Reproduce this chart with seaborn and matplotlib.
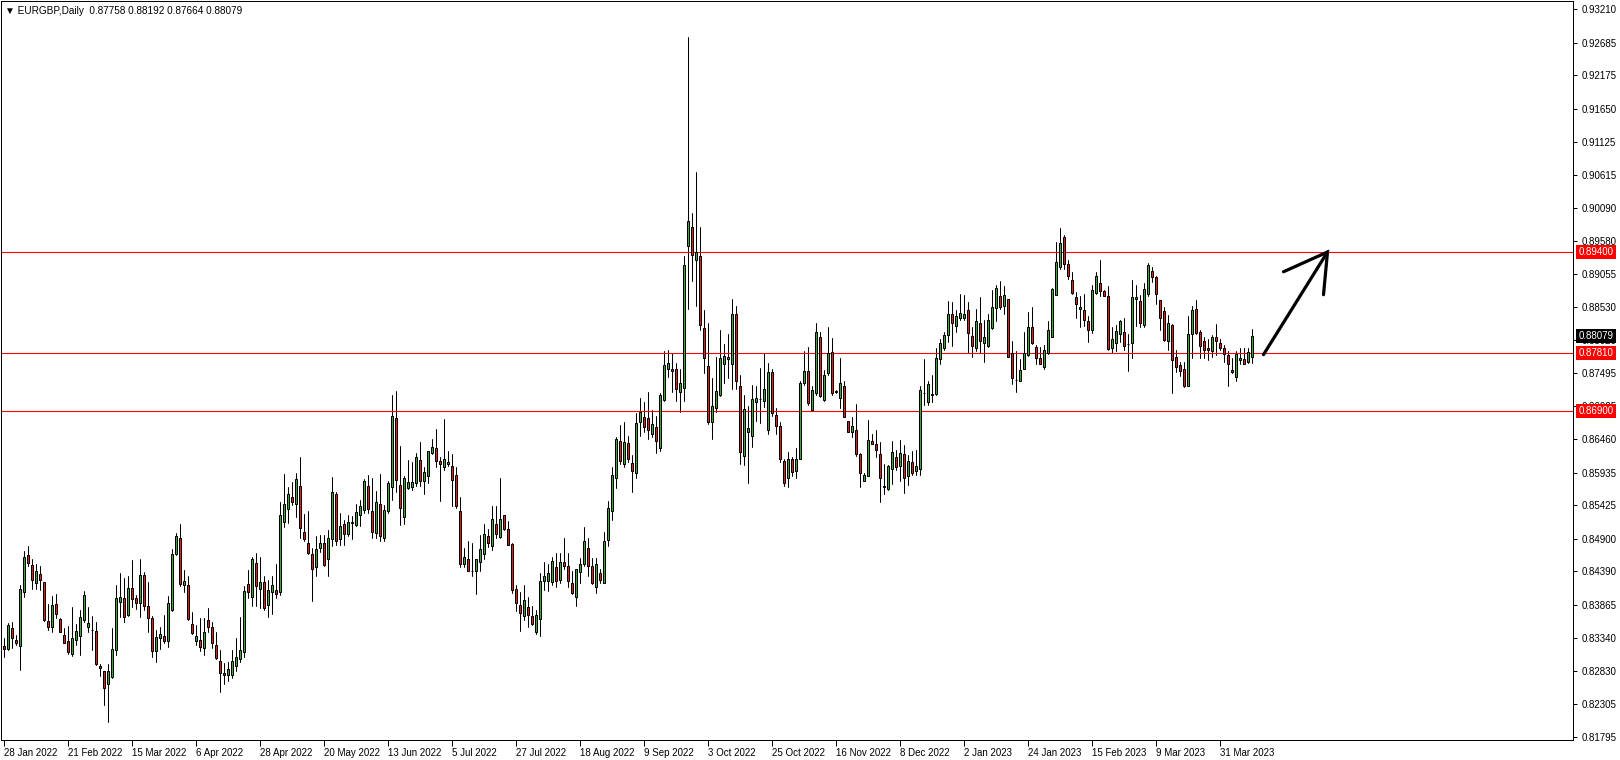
import numpy as np
import pandas as pd
import matplotlib
matplotlib.use("Agg")
import matplotlib.pyplot as plt
import matplotlib.transforms as mtransforms
import seaborn as sns

# ---------------- data ----------------
header_text = "\u25BC EURGBP,Daily  0.87758 0.88192 0.87664 0.88079"

date_labels = ["28 Jan 2022", "21 Feb 2022", "15 Mar 2022", "6 Apr 2022", "28 Apr 2022",
               "20 May 2022", "13 Jun 2022", "5 Jul 2022", "27 Jul 2022", "18 Aug 2022",
               "9 Sep 2022", "3 Oct 2022", "25 Oct 2022", "16 Nov 2022", "8 Dec 2022",
               "2 Jan 2023", "24 Jan 2023", "15 Feb 2023", "9 Mar 2023", "31 Mar 2023"]
bars_per_label = 16

price_ticks = [0.93210, 0.92685, 0.92175, 0.91650, 0.91125, 0.90615, 0.90090, 0.89580,
               0.89055, 0.88530, 0.88020, 0.87495, 0.86985, 0.86460, 0.85935, 0.85425,
               0.84900, 0.84390, 0.83865, 0.83340, 0.82830, 0.82305, 0.81795]

levels = [0.89400, 0.87810, 0.86900]
last_price = 0.88079

opens = [
 .8322, .8317, .8350, .8332, .8322, .8406, .8465, .8449, .8421, .8435,
 .8422, .8361, .8351, .8388, .8364, .8339, .8330, .8309, .8331, .8338,
 .8362, .8351, .8347, .8345, .8290, .8283, .8262, .8273, .8315, .8391,
 .8397, .8371, .8413, .8397, .8390, .8433, .8385, .8365, .8314, .8335,
 .8338, .8330, .8378, .8466, .8491, .8417, .8418, .8357, .8330, .8331,
 .8318, .8363, .8351, .8324, .8299, .8279, .8276, .8277, .8291, .8302,
 .8312, .8419, .8398, .8452, .8412, .8423, .8386, .8407, .8410, .8406,
 .8517, .8536, .8556, .8544, .8573, .8501, .8484, .8466, .8445, .8476,
 .8483, .8458, .8490, .8560, .8489, .8513, .8497, .8517, .8512, .8527,
 .8535, .8573, .8534, .8499, .8545, .8492, .8533, .8571, .8679, .8574,
 .8525, .8569, .8572, .8577, .8614, .8580, .8588, .8624, .8632, .8612,
 .8602, .8607, .8605, .8590, .8534, .8451, .8458, .8440, .8440, .8453,
 .8466, .8494, .8478, .8513, .8493, .8527, .8506, .8482, .8411, .8386,
 .8369, .8383, .8369, .8343, .8364, .8424, .8424, .8423, .8445, .8426,
 .8454, .8447, .8421, .8399, .8438, .8451, .8476, .8447, .8414, .8437,
 .8421, .8488, .8533, .8586, .8643, .8608, .8640, .8609, .8594, .8674,
 .8681, .8680, .8655, .8666, .8633, .8708, .8757, .8757, .8757, .8721,
 .8726, .8949, .8980, .8927, .8934, .8821, .8761, .8673, .8696, .8716,
 .8765, .8772, .8765, .8843, .8730, .8620, .8657, .8652, .8704, .8709,
 .8707, .8660, .8751, .8684, .8667, .8612, .8586, .8615, .8597, .8616,
 .8734, .8753, .8692, .8718, .8807, .8708, .8750, .8783, .8721, .8711,
 .8730, .8675, .8658, .8661, .8623, .8581, .8589, .8643, .8639, .8623,
 .8573, .8568, .8599, .8618, .8605, .8623, .8588, .8610, .8596, .8600,
 .8718, .8705, .8715, .8717, .8772, .8789, .8809, .8843, .8824, .8837,
 .8837, .8849, .8808, .8789, .8829, .8797, .8793, .8821, .8852, .8871,
 .8856, .8866, .8781, .8739, .8738, .8757, .8778, .8822, .8791, .8774,
 .8760, .8781, .8807, .8872, .8917, .8964, .8921, .8896, .8869, .8850,
 .8849, .8831, .8818, .8875, .8892, .8879, .8871, .8789, .8798, .8811,
 .8814, .8795, .8798, .8866, .8863, .8825, .8874, .8910, .8900, .8864,
 .8847, .8801, .8826, .8775, .8763, .8757, .8730, .8811, .8850, .8814,
 .8800, .8789, .8785, .8807, .8797, .8789, .8778, .8755, .8744, .8770,
 .8772, .8767, .87758]

highs = [
 .8335, .8358, .8360, .8339, .8418, .8471, .8479, .8458, .8451, .8447,
 .8423, .8387, .8400, .8403, .8365, .8350, .8353, .8383, .8356, .8379,
 .8408, .8383, .8369, .8360, .8294, .8283, .8293, .8350, .8418, .8437,
 .8428, .8431, .8457, .8402, .8458, .8438, .8423, .8369, .8347, .8352,
 .8371, .8401, .8474, .8499, .8513, .8441, .8432, .8375, .8355, .8365,
 .8365, .8381, .8360, .8343, .8315, .8295, .8297, .8315, .8335, .8367,
 .8416, .8441, .8461, .8467, .8461, .8431, .8425, .8432, .8450, .8547,
 .8592, .8572, .8579, .8593, .8619, .8529, .8534, .8475, .8494, .8496,
 .8496, .8504, .8587, .8564, .8530, .8520, .8528, .8526, .8545, .8551,
 .8584, .8590, .8586, .8565, .8592, .8543, .8580, .8716, .8722, .8635,
 .8589, .8613, .8611, .8625, .8642, .8602, .8628, .8646, .8662, .8619,
 .8678, .8627, .8623, .8603, .8555, .8475, .8487, .8484, .8458, .8496,
 .8514, .8506, .8541, .8541, .8585, .8528, .8518, .8483, .8418, .8406,
 .8417, .8399, .8384, .8378, .8437, .8453, .8451, .8461, .8468, .8468,
 .8491, .8468, .8439, .8443, .8460, .8509, .8492, .8460, .8460, .8443,
 .8501, .8550, .8602, .8650, .8668, .8674, .8652, .8621, .8687, .8711,
 .8704, .8720, .8692, .8683, .8718, .8784, .8786, .8781, .8766, .8757,
 .8934, .9277, .9001, .9065, .8979, .8849, .8828, .8743, .8775, .8818,
 .8795, .8812, .8866, .8855, .8747, .8716, .8699, .8731, .8730, .8758,
 .8781, .8766, .8757, .8695, .8674, .8616, .8626, .8618, .8632, .8737,
 .8784, .8791, .8729, .8828, .8814, .8755, .8822, .8805, .8723, .8773,
 .8738, .8675, .8681, .8701, .8625, .8594, .8676, .8654, .8661, .8642,
 .8607, .8606, .8643, .8630, .8645, .8637, .8622, .8628, .8630, .8729,
 .8772, .8737, .8747, .8790, .8803, .8815, .8863, .8862, .8849, .8874,
 .8872, .8862, .8823, .8851, .8870, .8833, .8843, .8881, .8888, .8894,
 .8887, .8867, .8801, .8785, .8772, .8814, .8846, .8853, .8794, .8791,
 .8794, .8831, .8884, .8955, .8977, .8967, .8927, .8909, .8877, .8871,
 .8874, .8839, .8888, .8909, .8927, .8880, .8886, .8822, .8825, .8834,
 .8836, .8812, .8896, .8889, .8872, .8891, .8923, .8916, .8902, .8865,
 .8854, .8841, .8827, .8787, .8768, .8768, .8839, .8855, .8864, .8818,
 .8807, .8803, .8810, .8827, .8804, .8794, .8785, .8774, .8785, .8790,
 .8790, .8790, .88192]

lows = [
 .8305, .8316, .8318, .8323, .8284, .8399, .8447, .8412, .8412, .8410,
 .8361, .8347, .8343, .8365, .8343, .8326, .8310, .8306, .8323, .8307,
 .8360, .8344, .8316, .8292, .8274, .8229, .8203, .8271, .8308, .8368,
 .8360, .8369, .8383, .8380, .8367, .8378, .8344, .8305, .8296, .8317,
 .8326, .8321, .8377, .8465, .8416, .8407, .8362, .8340, .8323, .8314,
 .8307, .8343, .8318, .8301, .8250, .8262, .8267, .8271, .8282, .8297,
 .8305, .8397, .8384, .8385, .8382, .8379, .8367, .8372, .8397, .8402,
 .8509, .8515, .8543, .8525, .8492, .8486, .8466, .8393, .8431, .8470,
 .8447, .8432, .8479, .8481, .8480, .8481, .8495, .8490, .8510, .8510,
 .8531, .8531, .8492, .8492, .8486, .8486, .8530, .8551, .8564, .8511,
 .8514, .8568, .8567, .8573, .8573, .8560, .8577, .8623, .8602, .8550,
 .8598, .8605, .8542, .8539, .8445, .8446, .8440, .8432, .8403, .8440,
 .8458, .8477, .8473, .8492, .8491, .8504, .8480, .8405, .8376, .8346,
 .8363, .8352, .8355, .8341, .8338, .8410, .8408, .8418, .8415, .8420,
 .8442, .8415, .8403, .8384, .8421, .8448, .8432, .8419, .8405, .8420,
 .8420, .8478, .8520, .8569, .8608, .8602, .8611, .8564, .8586, .8652,
 .8657, .8647, .8649, .8624, .8627, .8707, .8744, .8721, .8707, .8689,
 .8707, .8850, .8895, .8856, .8817, .8750, .8670, .8647, .8689, .8714,
 .8735, .8742, .8725, .8725, .8607, .8606, .8578, .8634, .8675, .8672,
 .8697, .8655, .8683, .8654, .8611, .8573, .8572, .8588, .8585, .8615,
 .8731, .8700, .8691, .8716, .8713, .8707, .8747, .8716, .8719, .8695,
 .8681, .8658, .8649, .8620, .8572, .8580, .8588, .8639, .8619, .8547,
 .8561, .8566, .8576, .8598, .8581, .8562, .8575, .8590, .8590, .8590,
 .8700, .8700, .8705, .8716, .8765, .8786, .8799, .8793, .8815, .8833,
 .8833, .8782, .8776, .8785, .8782, .8768, .8791, .8819, .8831, .8850,
 .8843, .8776, .8733, .8721, .8737, .8756, .8777, .8796, .8765, .8764,
 .8757, .8780, .8806, .8872, .8913, .8913, .8898, .8874, .8837, .8823,
 .8824, .8799, .8813, .8874, .8871, .8871, .8786, .8782, .8784, .8799,
 .8787, .8754, .8774, .8824, .8823, .8822, .8871, .8893, .8859, .8818,
 .8800, .8786, .8718, .8752, .8745, .8728, .8729, .8773, .8811, .8773,
 .8773, .8771, .8776, .8778, .8786, .8768, .8729, .8750, .8738, .8764,
 .8764, .8766, .87664]

closes = [
 .8317, .8355, .8334, .8326, .8411, .8462, .8452, .8426, .8440, .8426,
 .8363, .8352, .8386, .8372, .8344, .8327, .8312, .8334, .8345, .8367,
 .8402, .8358, .8347, .8294, .8288, .8256, .8283, .8317, .8397, .8399,
 .8368, .8413, .8395, .8390, .8433, .8384, .8365, .8314, .8336, .8340,
 .8330, .8389, .8466, .8494, .8419, .8424, .8364, .8342, .8338, .8321,
 .8343, .8352, .8326, .8303, .8279, .8277, .8285, .8299, .8304, .8315,
 .8408, .8406, .8458, .8416, .8422, .8381, .8410, .8418, .8403, .8527,
 .8545, .8561, .8548, .8584, .8507, .8489, .8467, .8442, .8474, .8484,
 .8449, .8492, .8563, .8486, .8510, .8497, .8516, .8515, .8532, .8541,
 .8581, .8536, .8501, .8548, .8495, .8535, .8577, .8683, .8582, .8539,
 .8585, .8579, .8579, .8618, .8580, .8595, .8627, .8634, .8612, .8607,
 .8615, .8611, .8582, .8541, .8450, .8461, .8440, .8440, .8458, .8474,
 .8498, .8484, .8521, .8498, .8521, .8505, .8481, .8409, .8389, .8373,
 .8394, .8371, .8357, .8371, .8424, .8431, .8436, .8455, .8424, .8454,
 .8448, .8424, .8405, .8442, .8451, .8486, .8448, .8421, .8451, .8426,
 .8486, .8538, .8590, .8647, .8612, .8642, .8615, .8597, .8671, .8689,
 .8665, .8661, .8670, .8644, .8716, .8763, .8766, .8754, .8725, .8735,
 .8920, .8988, .8935, .8940, .8825, .8773, .8674, .8698, .8722, .8773,
 .8777, .8775, .8843, .8738, .8626, .8694, .8664, .8709, .8711, .8709,
 .8725, .8751, .8687, .8667, .8616, .8577, .8616, .8595, .8616, .8734,
 .8753, .8703, .8723, .8814, .8714, .8747, .8781, .8718, .8721, .8734,
 .8681, .8658, .8667, .8623, .8593, .8590, .8645, .8639, .8630, .8586,
 .8572, .8604, .8626, .8603, .8624, .8586, .8612, .8594, .8605, .8724,
 .8718, .8733, .8717, .8774, .8798, .8810, .8842, .8828, .8840, .8845,
 .8843, .8813, .8792, .8832, .8801, .8807, .8833, .8853, .8883, .8853,
 .8872, .8776, .8743, .8739, .8755, .8782, .8822, .8798, .8774, .8764,
 .8786, .8818, .8882, .8924, .8954, .8921, .8902, .8875, .8859, .8853,
 .8833, .8818, .8880, .8902, .8879, .8871, .8788, .8803, .8816, .8831,
 .8793, .8795, .8869, .8869, .8828, .8882, .8920, .8900, .8874, .8837,
 .8802, .8828, .8771, .8760, .8754, .8730, .8811, .8849, .8813, .8793,
 .8787, .8787, .8806, .8801, .8790, .8780, .8764, .8751, .8780, .8773,
 .8765, .8783, .88079]

# hand-drawn arrow (bar index, price)
arrow_shaft_x = [315, 331]
arrow_shaft_y = [0.8779, 0.8940]
arrow_head_x = [320, 331, 330]
arrow_head_y = [0.8909, 0.8940, 0.8873]

# ---------------- style ----------------
sns.set_theme(style="white")
plt.rcParams["font.family"] = ["Liberation Sans", "DejaVu Sans"]

GREEN = "#3aaa35"
RED = "#e0201b"
PX = 0.72  # one pixel in points at dpi 100

W, H = 1620, 760
fig = plt.figure(figsize=(W / 100, H / 100), dpi=100)
fig.patch.set_facecolor("white")
ax = fig.add_axes([1 / W, 20 / H, 1572 / W, 739 / H])
ax.set_facecolor("white")

df = pd.DataFrame({"open": opens, "high": highs, "low": lows, "close": closes})
df["bar"] = np.arange(len(df))

# wicks through seaborn (one unit per bar)
wick_df = pd.DataFrame({
    "bar": np.repeat(df["bar"].values, 2),
    "price": np.column_stack([df["low"].values, df["high"].values]).ravel(),
})
sns.lineplot(data=wick_df, x="bar", y="price", units="bar", estimator=None,
             sort=False, color="black", linewidth=1.0 * PX, ax=ax, legend=False)

# bodies
o = df["open"].values
c = df["close"].values
bottom = np.minimum(o, c)
height = np.maximum(np.abs(c - o), 0.00002)
cols = np.where(c > o, GREEN, np.where(c < o, RED, "black"))
ax.bar(df["bar"].values, height, bottom=bottom, width=0.5, color=cols,
       edgecolor="black", linewidth=1.0 * PX, zorder=3)

# horizontal levels
for lv in levels:
    ax.axhline(lv, color="#ff0000", linewidth=1.1 * PX, zorder=2)

# arrow
ax.plot(arrow_shaft_x, arrow_shaft_y, color="black", linewidth=3.2 * PX,
        solid_capstyle="round", zorder=5)
ax.plot(arrow_head_x, arrow_head_y, color="black", linewidth=3.2 * PX,
        solid_capstyle="round", solid_joinstyle="miter", zorder=5)

# axes limits (bar centres on pixel centres, 4 px per bar)
ax.set_xlim(-0.625, 392.375)
ax.set_ylim(0.817433, 0.933382)

# x ticks
xt = np.arange(len(date_labels)) * bars_per_label
ax.set_xticks(xt)
ax.set_xticklabels(date_labels, fontsize=7, color="black")
offset = mtransforms.ScaledTranslation(2 / 72, 0, fig.dpi_scale_trans)
for lbl in ax.get_xticklabels():
    lbl.set_horizontalalignment("left")
    lbl.set_transform(lbl.get_transform() + offset)
ax.tick_params(axis="x", direction="out", length=4, width=1.0 * PX, color="black", pad=1.5,
               bottom=True)

# y ticks on the right
ax.yaxis.tick_right()
ax.set_yticks(price_ticks)
ax.set_yticklabels([f"{v:.5f}" for v in price_ticks], fontsize=7, color="black")
ax.tick_params(axis="y", direction="out", length=3, width=1.0 * PX, color="black", pad=3,
               right=True, left=False)
ax.set_xlabel("")
ax.set_ylabel("")

for s in ax.spines.values():
    s.set_visible(True)
    s.set_color("black")
    s.set_linewidth(1.0 * PX)

# price boxes on the right axis
blend = mtransforms.blended_transform_factory(ax.transAxes, ax.transData)
for lv in levels:
    ax.text(1.0035, lv, f"{lv:.5f}", transform=blend, ha="left", va="center",
            fontsize=7, color="white", zorder=10, clip_on=False,
            bbox=dict(boxstyle="square,pad=0.22", fc="#ff0000", ec="none"))
ax.text(1.0035, last_price, f"{last_price:.5f}", transform=blend, ha="left", va="center",
        fontsize=7, color="white", zorder=10, clip_on=False,
        bbox=dict(boxstyle="square,pad=0.22", fc="black", ec="none"))

# header
ax.text(4 / 1572, 1 - 10 / 739, header_text, transform=ax.transAxes, ha="left",
        va="center", fontsize=7.2, color="black", zorder=10)

fig.savefig("out.png", dpi=100, facecolor="white")
